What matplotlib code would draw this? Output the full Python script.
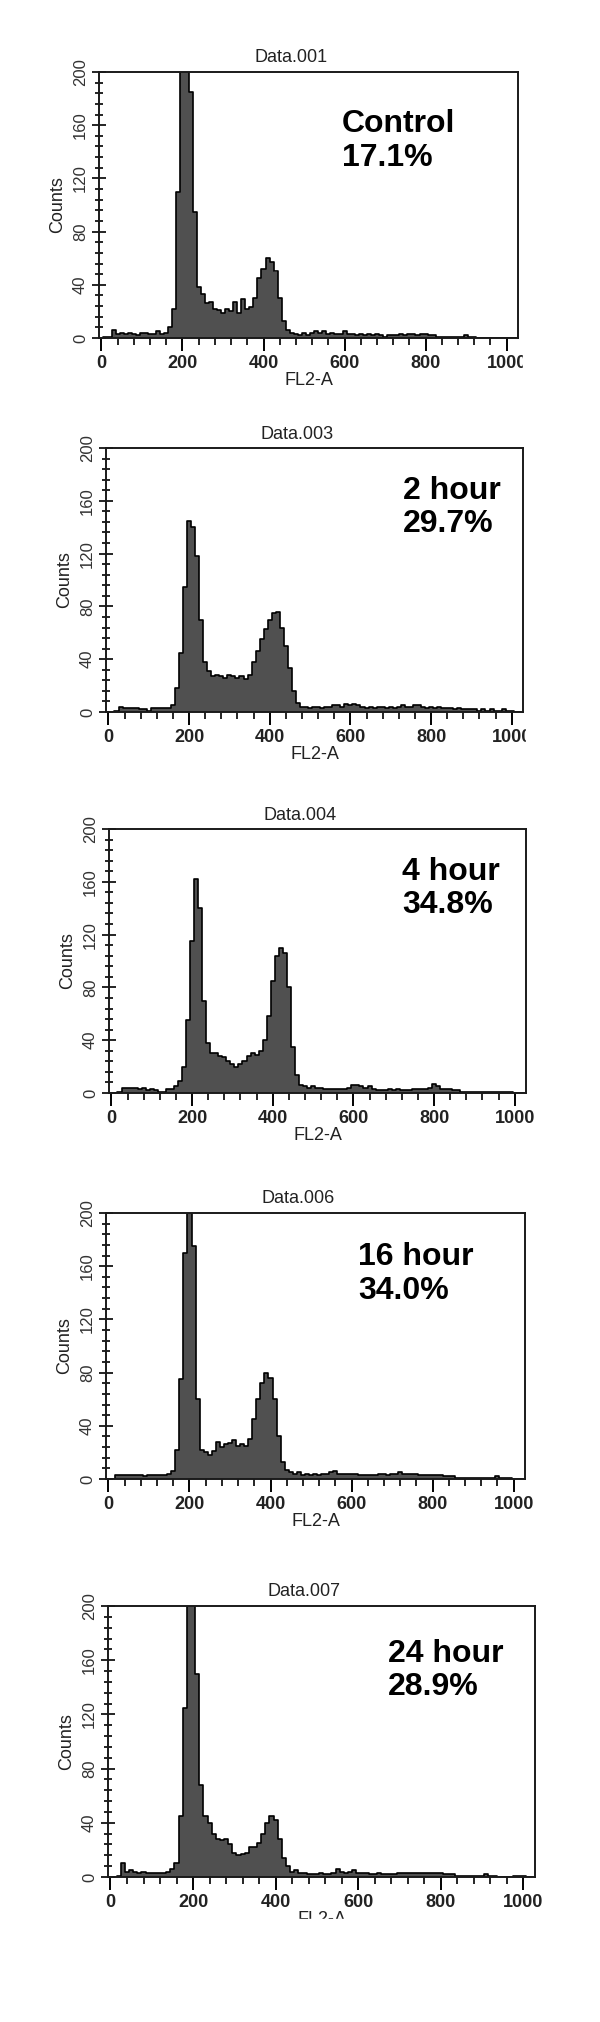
import numpy as np
import matplotlib
matplotlib.use('Agg')
import matplotlib.pyplot as plt
from matplotlib.patches import Rectangle
from matplotlib.ticker import MultipleLocator

plt.rcParams['font.family'] = ['Liberation Sans', 'DejaVu Sans']

# FL2-A channel (bin centre, 10 channels per bin)
channels = np.arange(0, 1030, 10)

# counts per bin
counts_control = [
    0, 1, 1, 6, 3, 4, 3, 4, 3, 2, 4, 4, 3, 3, 5, 3, 4, 8, 22, 110,
    205, 230, 185, 95, 38, 33, 26, 27, 22, 21, 19, 22, 20, 27, 19, 29, 22, 23, 30, 45,
    52, 60, 57, 50, 30, 13, 6, 4, 3, 2, 4, 2, 4, 5, 4, 5, 3, 4, 3, 3,
    5, 3, 3, 2, 3, 2, 3, 2, 3, 2, 1, 2, 2, 2, 3, 2, 3, 3, 2, 3,
    3, 2, 2, 1, 1, 1, 1, 1, 1, 1, 2, 1, 1, 0, 0, 0, 0, 0, 0, 0,
    0, 0, 0]
counts_2h = [
    0, 0, 1, 4, 3, 3, 3, 3, 2, 2, 1, 3, 3, 3, 3, 3, 5, 18, 45, 95,
    145, 140, 118, 70, 38, 31, 27, 28, 27, 26, 28, 27, 26, 27, 25, 28, 38, 46, 55, 63,
    70, 75, 76, 64, 50, 33, 16, 7, 4, 4, 3, 4, 4, 3, 4, 4, 5, 5, 4, 6,
    5, 6, 5, 4, 3, 4, 3, 4, 4, 3, 4, 3, 4, 5, 4, 4, 5, 5, 4, 3,
    4, 3, 4, 3, 3, 3, 2, 3, 2, 2, 2, 2, 1, 2, 1, 2, 1, 1, 2, 1,
    1, 0, 0]
counts_4h = [
    0, 0, 1, 4, 4, 4, 4, 3, 4, 2, 3, 2, 1, 1, 3, 3, 5, 9, 20, 55,
    115, 162, 140, 70, 38, 30, 30, 28, 27, 24, 22, 20, 22, 24, 28, 30, 29, 32, 40, 58,
    85, 104, 110, 106, 80, 35, 14, 6, 5, 4, 5, 4, 4, 3, 3, 3, 3, 3, 3, 4,
    6, 6, 5, 4, 5, 3, 2, 2, 2, 3, 2, 3, 2, 2, 2, 3, 3, 3, 3, 4,
    7, 5, 3, 3, 3, 2, 2, 1, 1, 1, 1, 1, 1, 1, 1, 1, 1, 1, 1, 1,
    0, 0, 0]
counts_16h = [
    0, 0, 3, 3, 3, 3, 3, 3, 3, 2, 3, 3, 3, 3, 3, 4, 6, 22, 75, 170,
    235, 175, 60, 22, 20, 18, 21, 28, 24, 26, 27, 29, 25, 26, 25, 30, 45, 60, 72, 80,
    76, 60, 32, 13, 7, 5, 4, 5, 3, 4, 3, 4, 3, 4, 4, 5, 6, 4, 4, 4,
    4, 4, 3, 3, 3, 3, 3, 4, 4, 3, 4, 4, 5, 4, 4, 4, 4, 3, 3, 3,
    3, 3, 3, 2, 2, 2, 1, 1, 1, 1, 1, 1, 1, 1, 1, 1, 2, 1, 1, 1,
    0, 0, 0]
counts_24h = [
    0, 0, 1, 10, 4, 5, 4, 3, 4, 3, 3, 3, 3, 3, 4, 6, 10, 45, 125, 210,
    230, 150, 68, 45, 40, 32, 28, 27, 28, 24, 18, 16, 17, 18, 22, 22, 25, 32, 40, 45,
    42, 28, 14, 8, 4, 5, 3, 3, 2, 2, 2, 3, 2, 2, 3, 6, 4, 3, 4, 5,
    3, 3, 3, 2, 2, 3, 2, 2, 2, 2, 3, 3, 3, 3, 3, 3, 3, 3, 3, 3,
    3, 2, 2, 2, 1, 1, 1, 1, 1, 1, 1, 2, 1, 1, 0, 0, 0, 0, 1, 1,
    1, 0, 0]

titles = ['Data.001', 'Data.003', 'Data.004', 'Data.006', 'Data.007']
labels = ['Control\n17.1%', '2 hour\n29.7%', '4 hour\n34.8%', '16 hour\n34.0%', '24 hour\n28.9%']
all_counts = [counts_control, counts_2h, counts_4h, counts_16h, counts_24h]

# axes boxes in pixels: left, right, top, bottom ; label anchor in axes fraction
W, H = 600, 2022
boxes = [(99, 518, 72, 338), (106, 523, 448, 712), (109, 526, 829, 1093),
         (106, 525, 1213, 1479), (108, 535, 1606, 1877)]
label_pos = [(0.58, 0.74), (0.712, 0.775), (0.703, 0.775), (0.601, 0.771), (0.656, 0.763)]

fig = plt.figure(figsize=(W / 100, H / 100), dpi=100)

for i in range(5):
    l, r, t, b = boxes[i]
    ax = fig.add_axes([l / W, (H - b) / H, (r - l) / W, (b - t) / H])

    ax.fill_between(channels, all_counts[i], step='mid', color='#505050', lw=0)
    ax.step(channels, all_counts[i], where='mid', color='k', lw=1.2)

    ax.set_xlim(-6, 1028)
    ax.set_ylim(0, 200)
    ax.xaxis.set_major_locator(MultipleLocator(200))
    ax.xaxis.set_minor_locator(MultipleLocator(40))
    ax.yaxis.set_major_locator(MultipleLocator(40))
    ax.yaxis.set_minor_locator(MultipleLocator(8))

    ax.tick_params(axis='x', which='major', direction='out', length=9, width=1.4,
                   pad=3, labelsize=13)
    ax.tick_params(axis='x', which='minor', direction='out', length=5, width=1.2)
    ax.tick_params(axis='y', which='major', direction='inout', length=10, width=1.2,
                   pad=3, labelsize=12, labelcolor='#333333')
    ax.tick_params(axis='y', which='minor', direction='inout', length=6, width=1.2)
    for lab in ax.get_xticklabels():
        lab.set_fontweight('bold')
        lab.set_color('#222222')
    for lab in ax.get_yticklabels():
        lab.set_rotation(90)
        lab.set_va('center')

    for sp in ax.spines.values():
        sp.set_linewidth(1.4)
        sp.set_color('#1a1a1a')

    ax.set_xlabel('FL2-A', fontsize=13, labelpad=0, color='#222222')
    ax.set_ylabel('Counts', fontsize=13, labelpad=5, color='#222222')

    ax.text(0.458, 1.053, titles[i], transform=ax.transAxes, ha='center',
            va='center', fontsize=13, color='#222222')
    ax.text(label_pos[i][0], label_pos[i][1], labels[i], transform=ax.transAxes,
            ha='left', va='center', fontsize=23, fontweight='bold',
            linespacing=1.15, color='black')

# the scanned figure is cropped at the right of the first two "1000" labels
# and through the last "FL2-A"
fig.add_artist(Rectangle((523 / W, (H - 375) / H), 77 / W, 25 / H,
                         transform=fig.transFigure, color='white', zorder=10))
fig.add_artist(Rectangle((526 / W, (H - 752) / H), 74 / W, 28 / H,
                         transform=fig.transFigure, color='white', zorder=10))
fig.add_artist(Rectangle((0, 0), 1, (H - 1919) / H,
                         transform=fig.transFigure, color='white', zorder=10))

plt.savefig('out.png', dpi=100)
